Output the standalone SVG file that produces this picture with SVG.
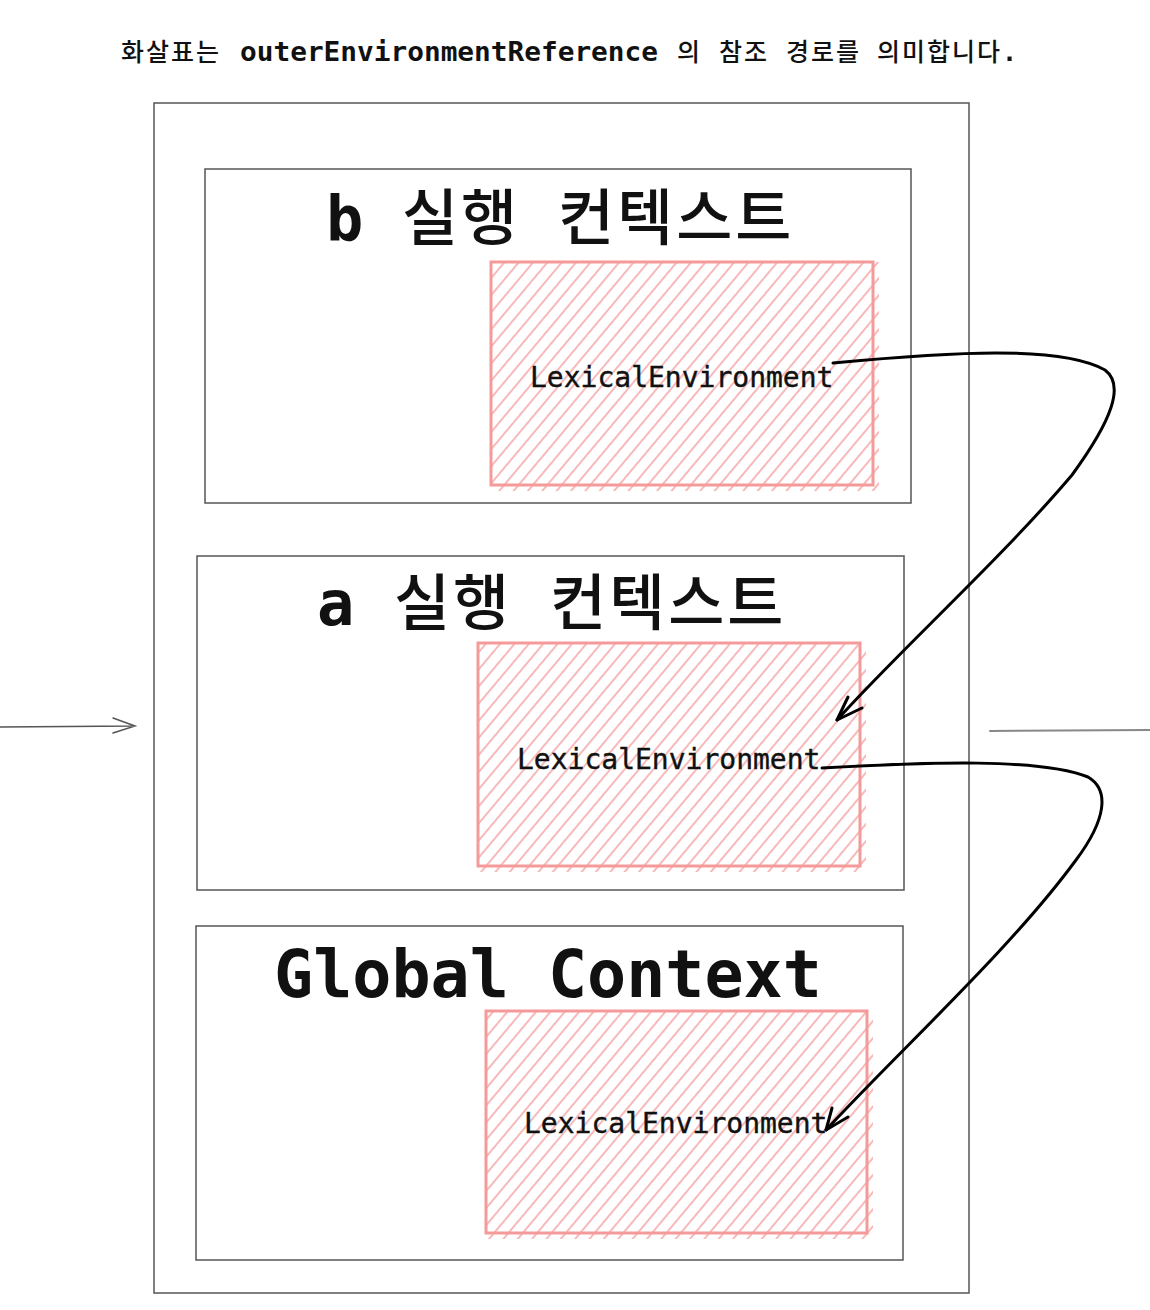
<svg xmlns="http://www.w3.org/2000/svg" width="1150" height="1310" viewBox="0 0 1150 1310">
<defs>
<pattern id="hatch" width="11" height="11" patternUnits="userSpaceOnUse" patternTransform="rotate(40)">
<line x1="5" y1="0" x2="5" y2="11" stroke="#f5a2a2" stroke-width="1.5"/>
</pattern>
<style>
.box{fill:none;stroke:#555;stroke-width:1.5}
.env{fill:none;stroke:#f59a9a;stroke-width:3}
.hat{fill:url(#hatch)}
.title{font-family:"DejaVu Sans Mono","Noto Sans CJK KR",monospace;font-weight:bold;font-size:62px;fill:#111}
.kr{font-family:"Noto Sans CJK KR","Noto Sans",sans-serif;font-weight:500;font-size:61px;letter-spacing:3px}
.lex{font-family:"DejaVu Sans Mono","Liberation Mono",monospace;font-size:28px;fill:#111;stroke:#111;stroke-width:0.4}
.conn{fill:none;stroke:#000;stroke-width:3;stroke-linecap:round;stroke-linejoin:round}
.thin{fill:none;stroke:#555;stroke-width:1.5;stroke-linecap:round}
.ck{letter-spacing:2px}
</style>
</defs>
<rect width="1150" height="1310" fill="#fff"/>
<g id="caption">
<text y="61" style="font-family:'Noto Sans CJK KR','Noto Sans',sans-serif;font-size:25px;font-weight:500;fill:#111">
<tspan class="ck" x="121">화살표는</tspan>
<tspan x="240" textLength="418" lengthAdjust="spacingAndGlyphs" style="font-family:'DejaVu Sans Mono',monospace;font-size:26px;font-weight:bold">outerEnvironmentReference</tspan>
<tspan x="677">의</tspan>
<tspan class="ck" x="719">참조</tspan>
<tspan class="ck" x="786">경로를</tspan>
<tspan class="ck" x="877">의미합니다</tspan><tspan style="font-family:'DejaVu Sans Mono',monospace;font-weight:bold">.</tspan>
</text>
</g>
<g id="outer">
<rect class="box" x="154" y="103" width="815" height="1190"/>
</g>
<g id="b-context">
<rect class="box" x="205" y="169" width="706" height="334"/>
<text class="title" y="240"><tspan x="326">b</tspan><tspan class="kr" x="402">실행</tspan><tspan class="kr" x="558">컨텍스트</tspan></text>
<rect class="hat" x="491" y="262" width="388" height="229"/>
<rect class="env" x="491" y="262" width="382" height="223"/>
<text class="lex" x="530" y="387">LexicalEnvironment</text>
</g>
<g id="a-context">
<rect class="box" x="197" y="556" width="707" height="334"/>
<text class="title" y="625"><tspan x="317">a</tspan><tspan class="kr" x="394">실행</tspan><tspan class="kr" x="550">컨텍스트</tspan></text>
<rect class="hat" x="478" y="643" width="388" height="229"/>
<rect class="env" x="478" y="643" width="382" height="223"/>
<text class="lex" x="517" y="769">LexicalEnvironment</text>
</g>
<g id="global-context">
<rect class="box" x="196" y="926" width="707" height="334"/>
<text class="title" x="274" y="997" style="font-size:65px">Global Context</text>
<rect class="hat" x="486" y="1011" width="387" height="228"/>
<rect class="env" x="486" y="1011" width="381" height="222"/>
<text class="lex" x="524" y="1133">LexicalEnvironment</text>
</g>
<g id="connectors">
<path class="conn" d="M833 363 C950 352 1060 345 1105 370 C1125 385 1112 420 1072 475 C1000 560 900 650 837 720"/>
<path class="conn" d="M848 697 L837 720 L862 708"/>
<path class="conn" d="M822 768 C930 762 1040 758 1088 777 C1110 790 1106 820 1076 860 C1010 950 900 1050 826 1130"/>
<path class="conn" d="M832 1108 L826 1130 L848 1117"/>
<path class="thin" d="M0 727 L135 726 M113 718 L135 726 L113 733"/>
<path class="thin" d="M990 731 L1150 730" style="stroke:#888;stroke-width:2"/>
</g>
</svg>
